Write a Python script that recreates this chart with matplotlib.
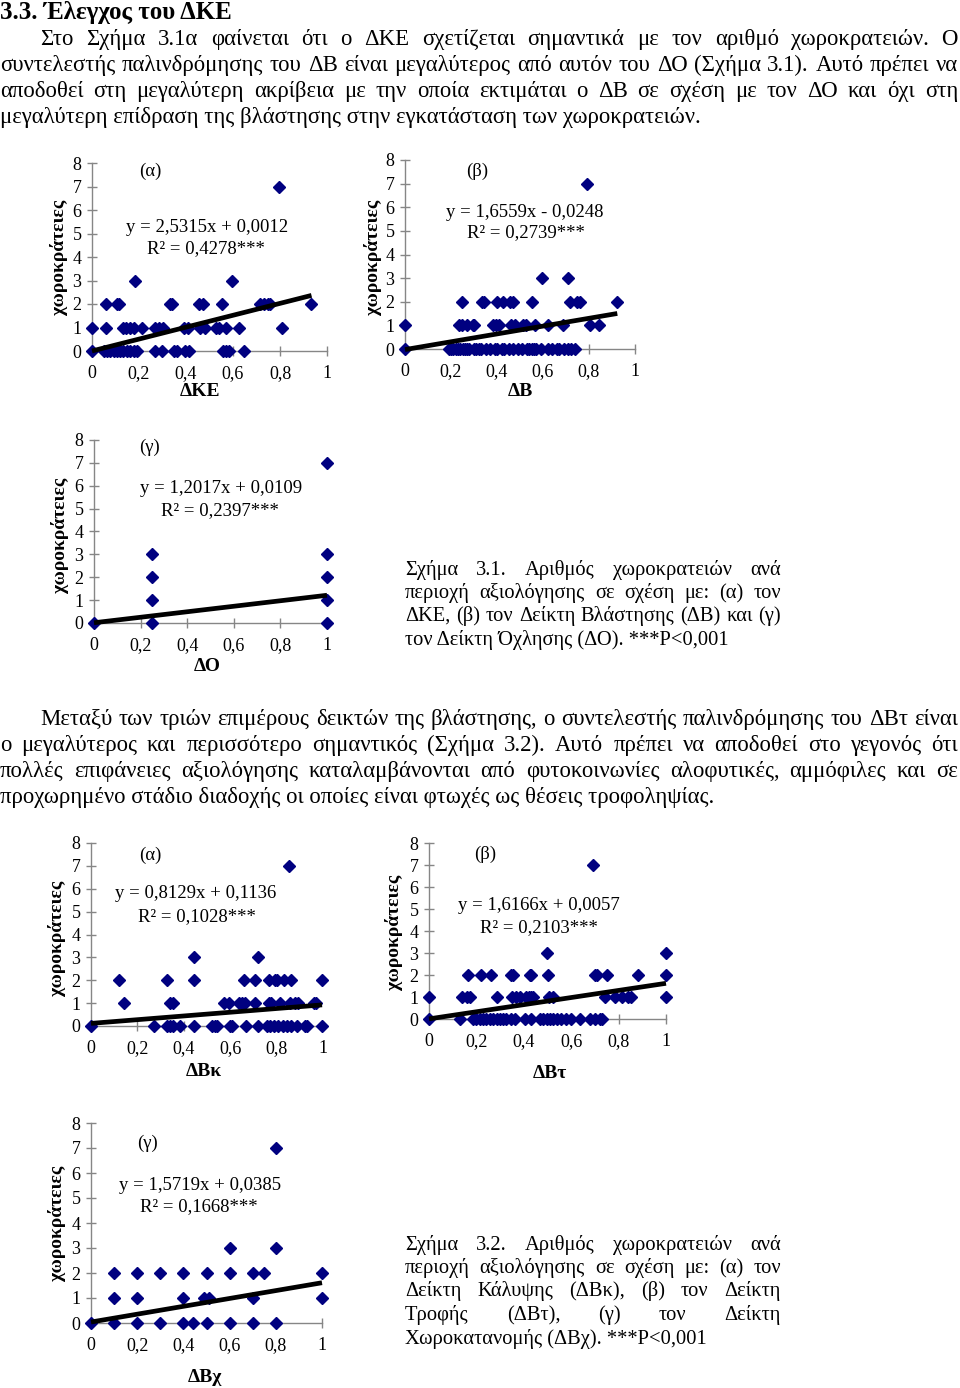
import numpy as np
import matplotlib
matplotlib.use("Agg")
import matplotlib.pyplot as plt

W, H = 960, 1388
plt.rcParams["font.family"] = ["Liberation Serif", "DejaVu Serif"]

NAVY = "#000080"
AXIS_GREY = "#868686"

# x values of the points, grouped by number of territories (y)
DKE = {
    0: [0.0, 0.05, 0.064, 0.078, 0.092, 0.106, 0.12, 0.134, 0.149, 0.163, 0.177, 0.191,
        0.27, 0.298, 0.348, 0.362, 0.397, 0.411, 0.556, 0.572, 0.585, 0.645],
    1: [0.0, 0.06, 0.132, 0.146, 0.163, 0.177, 0.212, 0.269, 0.283, 0.304, 0.392, 0.41,
        0.46, 0.48, 0.526, 0.54, 0.569, 0.627, 0.81],
    2: [0.059, 0.106, 0.116, 0.332, 0.339, 0.457, 0.474, 0.552, 0.717, 0.731, 0.749, 0.756, 0.934],
    3: [0.181, 0.597],
    7: [0.796],
}
DB = {
    0: [0.0, 0.19, 0.2, 0.21, 0.22, 0.23, 0.24, 0.25, 0.26, 0.27, 0.28, 0.3, 0.31, 0.32, 0.33,
        0.35, 0.37, 0.39, 0.4, 0.42, 0.43, 0.45, 0.47, 0.49, 0.51, 0.53, 0.54, 0.55, 0.56,
        0.57, 0.59, 0.62, 0.64, 0.66, 0.67, 0.69, 0.71, 0.72, 0.74],
    1: [0.0, 0.236, 0.246, 0.271, 0.294, 0.301, 0.383, 0.397, 0.409, 0.462, 0.477, 0.515,
        0.528, 0.567, 0.62, 0.688, 0.804, 0.845],
    2: [0.249, 0.333, 0.343, 0.398, 0.425, 0.457, 0.471, 0.551, 0.717, 0.746, 0.761, 0.923],
    3: [0.597, 0.71],
    7: [0.79],
}
DO = {
    0: [0.0, 0.25, 1.0],
    1: [0.25, 1.0],
    2: [0.25, 1.0],
    3: [0.25, 1.0],
    7: [1.0],
}
DBK = {
    0: [0.0, 0.273, 0.328, 0.342, 0.352, 0.385, 0.443, 0.522, 0.536, 0.543, 0.601, 0.608,
        0.668, 0.718, 0.759, 0.773, 0.787, 0.805, 0.828, 0.845, 0.862, 0.888, 0.924, 0.931, 0.996],
    1: [0.144, 0.342, 0.352, 0.572, 0.593, 0.636, 0.651, 0.665, 0.708, 0.766, 0.777, 0.816,
        0.859, 0.881, 0.891, 0.963, 0.971],
    2: [0.122, 0.328, 0.443, 0.658, 0.705, 0.766, 0.795, 0.802, 0.83, 0.862, 0.996],
    3: [0.443, 0.718],
    7: [0.852],
}
DBT = {
    0: [0.0, 0.13, 0.186, 0.2, 0.214, 0.228, 0.242, 0.256, 0.27, 0.285, 0.299, 0.313, 0.327,
        0.348, 0.362, 0.404, 0.432, 0.468, 0.482, 0.496, 0.51, 0.524, 0.538, 0.559, 0.58,
        0.601, 0.637, 0.679, 0.7, 0.721, 0.732],
    1: [0.0, 0.141, 0.161, 0.172, 0.285, 0.352, 0.369, 0.383, 0.411, 0.423, 0.432, 0.439,
        0.507, 0.524, 0.742, 0.785, 0.813, 0.841, 0.851, 1.0],
    2: [0.165, 0.221, 0.263, 0.348, 0.355, 0.425, 0.432, 0.503, 0.7, 0.707, 0.749, 0.883, 1.0],
    3: [0.496, 1.0],
    7: [0.693],
}
DBX = {
    0: [0.0, 0.1, 0.2, 0.3, 0.4, 0.44, 0.5, 0.6, 0.7, 0.8],
    1: [0.1, 0.2, 0.4, 0.49, 0.51, 0.7, 1.0],
    2: [0.1, 0.2, 0.3, 0.4, 0.5, 0.6, 0.7, 0.75, 1.0],
    3: [0.6, 0.8],
    7: [0.8],
}

SLOPES = [2.5315, 1.6559, 1.2017, 0.8129, 1.6166, 1.5719]
INTERCEPTS = [0.0012, -0.0248, 0.0109, 0.1136, 0.0057, 0.0385]
EQ_TEXT = ["y = 2,5315x + 0,0012", "y = 1,6559x - 0,0248", "y = 1,2017x + 0,0109",
           "y = 0,8129x + 0,1136", "y = 1,6166x + 0,0057", "y = 1,5719x + 0,0385"]
R2_TEXT = ["R² = 0,4278***", "R² = 0,2739***", "R² = 0,2397***",
           "R² = 0,1028***", "R² = 0,2103***", "R² = 0,1668***"]
PANELS = ["(α)", "(β)", "(γ)", "(α)", "(β)", "(γ)"]
XLABELS = ["ΔΚΕ", "ΔΒ", "ΔΟ", "ΔΒκ", "ΔΒτ", "ΔΒχ"]
YLABEL = "χωροκράτειες"
XTICKS = [0, 0.2, 0.4, 0.6, 0.8, 1]
XTICK_LABELS = ["0", "0,2", "0,4", "0,6", "0,8", "1"]
YTICKS = [0, 1, 2, 3, 4, 5, 6, 7, 8]

HEADING = "3.3. Έλεγχος του ΔΚΕ"
PARA1 = [
    "Στο Σχήμα 3.1α φαίνεται ότι ο ΔΚΕ σχετίζεται σημαντικά με τον αριθμό χωροκρατειών. Ο",
    "συντελεστής παλινδρόμησης του ΔΒ είναι μεγαλύτερος από αυτόν του ΔΟ (Σχήμα 3.1). Αυτό πρέπει να",
    "αποδοθεί στη μεγαλύτερη ακρίβεια με την οποία εκτιμάται ο ΔΒ σε σχέση με τον ΔΟ και όχι στη",
    "μεγαλύτερη επίδραση της βλάστησης στην εγκατάσταση των χωροκρατειών.",
]
PARA2 = [
    "Μεταξύ των τριών επιμέρους δεικτών της βλάστησης, ο συντελεστής παλινδρόμησης του ΔΒτ είναι",
    "ο μεγαλύτερος και περισσότερο σημαντικός (Σχήμα 3.2). Αυτό πρέπει να αποδοθεί στο γεγονός ότι",
    "πολλές επιφάνειες αξιολόγησης καταλαμβάνονται από φυτοκοινωνίες αλοφυτικές, αμμόφιλες και σε",
    "προχωρημένο στάδιο διαδοχής οι οποίες είναι φτωχές ως θέσεις τροφοληψίας.",
]
CAPTION1 = [
    "Σχήμα 3.1. Αριθμός χωροκρατειών ανά",
    "περιοχή αξιολόγησης σε σχέση με: (α) τον",
    "ΔΚΕ, (β) τον Δείκτη Βλάστησης (ΔΒ) και (γ)",
    "τον Δείκτη Όχλησης (ΔΟ). ***P<0,001",
]
CAPTION2 = [
    "Σχήμα 3.2. Αριθμός χωροκρατειών ανά",
    "περιοχή αξιολόγησης σε σχέση με: (α) τον",
    "Δείκτη Κάλυψης (ΔΒκ), (β) τον Δείκτη",
    "Τροφής (ΔΒτ), (γ) τον Δείκτη",
    "Χωροκατανομής (ΔΒχ). ***P<0,001",
]

# layout in page pixels: (x of 0, y of 0, x of 1, y of 8)
BOXES = [(92, 351, 327, 163), (405, 349, 635, 160), (94, 623, 327, 440),
         (91, 1026, 323, 843), (429, 1019, 666, 843), (91, 1323, 322, 1123)]
PANEL_POS = [(150, 171), (477, 171), (149, 447), (150, 855), (485, 854), (148, 1143)]
EQ_POS = [(207, 227), (525, 212), (221, 488), (196, 893), (539, 905), (200, 1185)]
R2_POS = [(206, 249), (526, 233), (220, 511), (197, 917), (539, 928), (199, 1207)]
YLAB_POS = [(59, 257), (373, 257), (60, 535), (57, 938), (394, 932), (57, 1223)]
XLAB_POS = [(200, 391), (520, 391), (207, 666), (204, 1071), (550, 1073), (205, 1377)]

fig = plt.figure(figsize=(W / 100, H / 100), dpi=100)
page = fig.add_axes([0, 0, 1, 1])
page.set_xlim(0, W)
page.set_ylim(H, 0)
page.axis("off")
renderer = fig.canvas.get_renderer()


def text_width(s, size, weight="normal"):
    t = page.text(0, 0, s, fontsize=size, fontweight=weight)
    w = t.get_window_extent(renderer).width
    t.remove()
    return w


def fit_size(s, width, weight="normal"):
    return 10 * width / text_width(s, 10, weight)


def justified(x0, x1, y, line, size):
    words = line.split()
    widths = [text_width(w, size) for w in words]
    gap = (x1 - x0 - sum(widths)) / (len(words) - 1)
    x = x0
    for w, wd in zip(words, widths):
        page.text(x, y, w, fontsize=size, va="baseline", ha="left")
        x += wd + gap


def block(lines, x0, x1, first_indent, baselines, size):
    for i, (line, yb) in enumerate(zip(lines, baselines)):
        start = x0 + (first_indent if i == 0 else 0)
        if i == len(lines) - 1:
            page.text(start, yb, line, fontsize=size, va="baseline", ha="left")
        else:
            justified(start, x1, yb, line, size)


# heading and body text
page.text(0, 19, HEADING, fontsize=fit_size(HEADING, 233, "bold"), fontweight="bold",
          va="baseline", ha="left")
size_p1 = fit_size(PARA1[-1], 700)
block(PARA1, 0, 958, 40, [45, 71, 97, 123], size_p1)
size_p2 = fit_size(PARA2[-1], 712)
block(PARA2, 0, 958, 40, [725, 751, 777, 803], size_p2)
size_c1 = fit_size(CAPTION1[-1], 325)
block(CAPTION1, 405, 781, 0, [575, 598, 621, 645], size_c1)
size_c2 = fit_size(CAPTION2[-1], 302)
block(CAPTION2, 405, 781, 0, [1250, 1273, 1296, 1320, 1344], size_c2)

# scatter panels
datasets = [DKE, DB, DO, DBK, DBT, DBX]
for i, pts in enumerate(datasets):
    ox, oy, x1, y8 = BOXES[i]
    ax = fig.add_axes([ox / W, 1 - oy / H, (x1 - ox) / W, (oy - y8) / H])
    ax.patch.set_alpha(0)
    ax.set_xlim(0, 1)
    ax.set_ylim(0, 8)
    for s in ["top", "right"]:
        ax.spines[s].set_visible(False)
    for s in ["left", "bottom"]:
        ax.spines[s].set_color(AXIS_GREY)
        ax.spines[s].set_linewidth(1)
    ax.set_xticks(XTICKS)
    ax.set_xticklabels(XTICK_LABELS)
    ax.set_yticks(YTICKS)
    ax.tick_params(direction="inout", length=7, width=1, color=AXIS_GREY,
                   labelsize=13, labelcolor="black")
    ax.tick_params(axis="x", pad=6.5)
    ax.tick_params(axis="y", pad=4)

    xs = [x for k in pts for x in pts[k]]
    ys = [k for k in pts for _ in pts[k]]
    ax.plot(xs, ys, "D", ms=6.2, color=NAVY, clip_on=False, zorder=3)

    xx = np.array([min(xs), max(xs)])
    ax.plot(xx, SLOPES[i] * xx + INTERCEPTS[i], color="black", lw=3.4,
            solid_capstyle="butt", clip_on=False, zorder=4)

    page.text(*PANEL_POS[i], PANELS[i], fontsize=13.5, ha="center", va="center")
    page.text(*EQ_POS[i], EQ_TEXT[i], fontsize=13.5, ha="center", va="center")
    page.text(*R2_POS[i], R2_TEXT[i], fontsize=13.5, ha="center", va="center")
    page.text(*YLAB_POS[i], YLABEL, fontsize=14, fontweight="bold", rotation=90,
              ha="center", va="center")
    page.text(*XLAB_POS[i], XLABELS[i], fontsize=14, fontweight="bold",
              ha="center", va="center")

fig.savefig("out.png", dpi=100, facecolor="white")
